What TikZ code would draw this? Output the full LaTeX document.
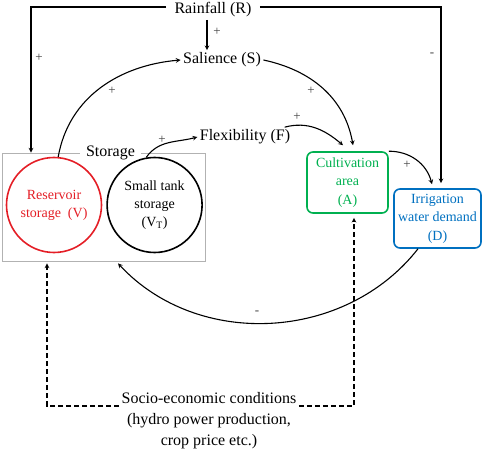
\documentclass[tikz,border=0pt]{standalone}
\usepackage{fontspec}
\setmainfont{Liberation Serif}
\usetikzlibrary{positioning}
\definecolor{resred}{RGB}{228,30,38}
\definecolor{cultgreen}{RGB}{0,176,80}
\definecolor{irrblue}{RGB}{0,112,192}

\begin{document}
\begin{tikzpicture}[
      x=1pt, y=1pt,
      nodes={font=\fontsize{16}{21}\selectfont, inner sep=2pt},
      store/.style={circle, draw, line width=1.6pt, minimum size=95pt,
        align=center, font=\fontsize{14}{18}\selectfont},
      stock/.style={draw, line width=1.6pt, rounded corners=6pt,
        align=center, font=\fontsize{14}{18.5}\selectfont},
      sign/.style={font=\fontsize{13}{13}\selectfont, text=black!75},
      socdash/.style={dash pattern=on 5pt off 3pt},
      line width=1.1pt, >=stealth
      ]
  \useasboundingbox (0,0) rectangle (484,450);

  % Define nodes
  \node[inner xsep=8pt]                    (R)  at (213,440) {Rainfall (R)};
  \node                                    (S)  at (222,390) {Salience (S)};
  \node                                    (F)  at (245,313) {Flexibility (F)};
  \node[draw=black!30, line width=0.8pt, minimum width=203pt,
        minimum height=108pt]              (box) at (103.5,243) {};
  \node[fill=white, inner xsep=6pt] (storage) at ([xshift=7]box.north) {Storage};
  \node[store, draw=resred, text=resred]   (V)  at (54,245) {Reservoir\\storage~~(V)};
  \node[store, right=4pt of V]             (VT) {Small tank\\storage\\(V\textsubscript{T})};
  \node[stock, draw=cultgreen, text=cultgreen, minimum width=81pt,
        minimum height=61pt]               (A)  at (347.5,267.5) {Cultivation\\area\\(A)};
  \node[stock, draw=irrblue, text=irrblue, minimum width=87pt,
        minimum height=59pt]               (D)  at (437.5,231.5) {Irrigation\\water demand\\(D)};
  \node[align=center, anchor=base]         (soc) at (209,5)
        {Socio-economic conditions\\(hydro power production,\\crop price etc.)};

  % Signs
  \node[sign] (sRV) at (39,392)  {+};
  \node[sign] (sRS) at (217,418) {+};
  \node[sign] (sRD) at (432,395) {-};
  \node[sign] (sVS) at (112,359) {+};
  \node[sign] (sSA) at (311,359) {+};
  \node[sign] (sFA) at (297,333) {+};
  \node[sign] (sTF) at (162,310) {+};
  \node[sign] (sAD) at (407,285) {+};
  \node[sign] (sDV) at (257,137) {-};

  % Connect the nodes
  \draw[->] ([yshift=3]R.west) -| ([xshift=-72.5]box.north);
  \draw[->] ([yshift=3]R.east) -| ([xshift=3.5,yshift=5]D.north);
  \draw[->] ([xshift=-6]R.south) -- ([xshift=-15]S.north);
  \draw[->] (V.85) to[out=80, in=185] (S.west);
  \draw[->] (S.east) to[out=-12, in=100] ([xshift=5.5,yshift=6]A.north);
  \draw[->] ([xshift=-8]F.north east) to[out=15, in=140] ([xshift=-4.5,yshift=6]A.north);
  \draw[->] (VT.100) to[out=55, in=195] (F.west);
  \draw[->] (A.north east) to[out=0, in=105] ([xshift=-5.5,yshift=4]D.north);
  \draw[->] ([xshift=-19.5]D.south) to[out=-128, in=-47] ([xshift=14.5,yshift=-2]box.south);

  % Socio-economic conditions
  \draw[->, socdash] ([yshift=39]soc.base west) -| ([xshift=-56.5,yshift=-2]box.south);
  \draw[->, socdash] ([yshift=39]soc.base east) -| ([xshift=6.5,yshift=-4]A.south);

\end{tikzpicture}
\end{document}
